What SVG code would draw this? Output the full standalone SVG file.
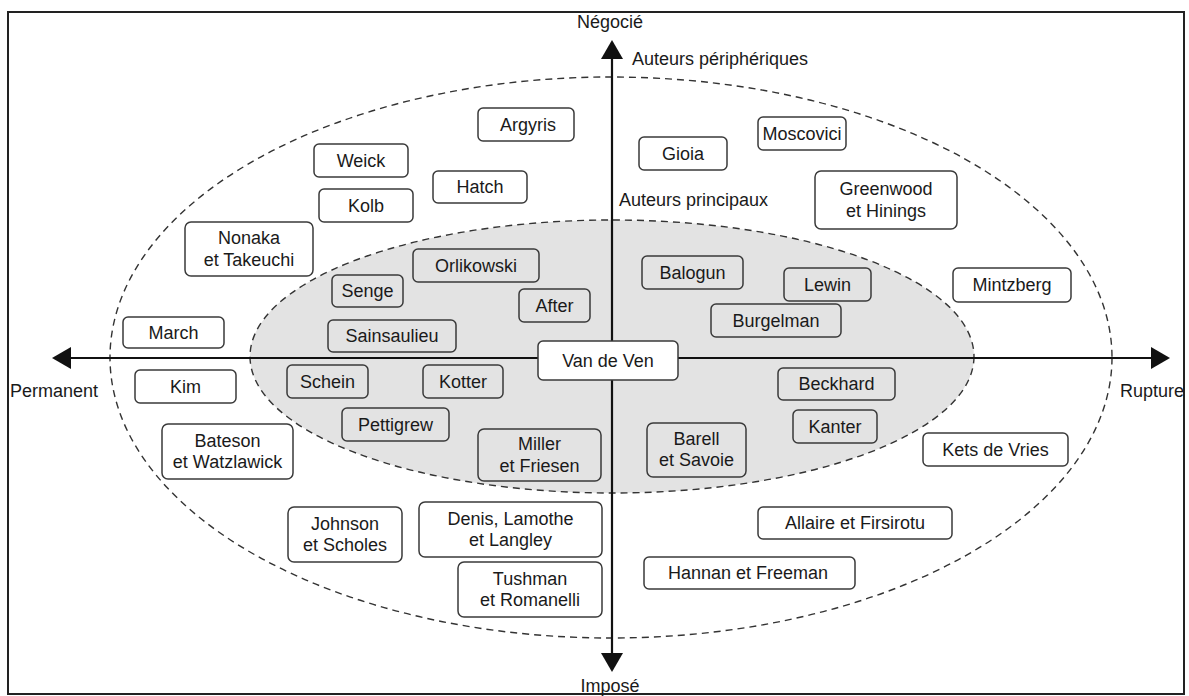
<svg xmlns="http://www.w3.org/2000/svg" width="1189" height="696" viewBox="0 0 1189 696">
<defs>
<marker id="arr" markerUnits="userSpaceOnUse" markerWidth="19" markerHeight="22" viewBox="0 0 19 22" refX="0" refY="11" orient="auto-start-reverse">
<path d="M0,0 L19,11 L0,22 z" fill="#111"/>
</marker>
<style>
.t{font-family:"Liberation Sans",Arial,sans-serif;font-size:18px;fill:#1a1a1a;text-anchor:middle}
.l{font-family:"Liberation Sans",Arial,sans-serif;font-size:18px;fill:#1a1a1a}
.b{fill:none;stroke:#3a3a3a;stroke-width:1.5}
.w{fill:#fff;stroke:#3a3a3a;stroke-width:1.5}
.e{stroke:#333;stroke-width:1.4;stroke-dasharray:7 5}
.ax{stroke:#111;stroke-width:2.2;fill:none}
</style>
</defs>
<rect x="0" y="0" width="1189" height="696" fill="#fff"/>
<rect x="8" y="12" width="1176" height="682" fill="none" stroke="#222" stroke-width="2"/>
<ellipse cx="611" cy="357.5" rx="501" ry="280.5" fill="none" class="e"/>
<ellipse cx="612" cy="356.5" rx="362" ry="136.5" fill="#e3e3e3" class="e"/>
<g id="connectors">
<line class="ax" x1="612" y1="59" x2="612" y2="653" marker-start="url(#arr)" marker-end="url(#arr)"/>
<line class="ax" x1="71" y1="358" x2="1151" y2="358" marker-start="url(#arr)" marker-end="url(#arr)"/>
</g>
<g id="labels">
<text class="t" x="610" y="28">Négocié</text>
<text class="t" x="610" y="692">Imposé</text>
<text class="l" x="10" y="397">Permanent</text>
<text class="l" x="1120" y="397">Rupture</text>
<text class="l" x="632" y="65">Auteurs périphériques</text>
<text class="l" x="619" y="206">Auteurs principaux</text>
</g>
<g id="argyris"><rect class="b" x="478" y="108" width="96" height="33" rx="5"/><text class="t" x="528" y="130.5">Argyris</text></g>
<g id="weick"><rect class="b" x="314" y="144" width="94" height="33" rx="5"/><text class="t" x="361" y="166.5">Weick</text></g>
<g id="kolb"><rect class="b" x="319" y="189" width="94" height="33" rx="5"/><text class="t" x="366" y="211.5">Kolb</text></g>
<g id="hatch"><rect class="b" x="433" y="171" width="94" height="32" rx="5"/><text class="t" x="480" y="193">Hatch</text></g>
<g id="gioia"><rect class="b" x="639" y="137" width="88" height="33" rx="5"/><text class="t" x="683" y="159.5">Gioia</text></g>
<g id="moscovici"><rect class="b" x="758" y="117" width="88" height="33" rx="5"/><text class="t" x="802" y="139.5">Moscovici</text></g>
<g id="greenwood"><rect class="b" x="815" y="171" width="142" height="58" rx="6"/><text class="t" x="886" y="195">Greenwood</text><text class="t" x="886" y="217">et Hinings</text></g>
<g id="nonaka"><rect class="b" x="185" y="222" width="128" height="54" rx="6"/><text class="t" x="249" y="244">Nonaka</text><text class="t" x="249" y="265.5">et Takeuchi</text></g>
<g id="mintzberg"><rect class="b" x="953" y="268" width="118" height="34" rx="5"/><text class="t" x="1012" y="291">Mintzberg</text></g>
<g id="march"><rect class="b" x="123" y="317" width="101" height="31" rx="5"/><text class="t" x="173.5" y="338.5">March</text></g>
<g id="kim"><rect class="b" x="135" y="370" width="101" height="33" rx="5"/><text class="t" x="185.5" y="392.5">Kim</text></g>
<g id="bateson"><rect class="b" x="162" y="424" width="131" height="55" rx="6"/><text class="t" x="227.5" y="446.5">Bateson</text><text class="t" x="227.5" y="468">et Watzlawick</text></g>
<g id="ketsdevries"><rect class="b" x="923" y="433" width="145" height="33" rx="5"/><text class="t" x="995.5" y="455.5">Kets de Vries</text></g>
<g id="johnson"><rect class="b" x="288" y="507" width="114" height="55" rx="6"/><text class="t" x="345" y="529.5">Johnson</text><text class="t" x="345" y="551">et Scholes</text></g>
<g id="denis"><rect class="b" x="419" y="502" width="183" height="55" rx="6"/><text class="t" x="510.5" y="524.5">Denis, Lamothe</text><text class="t" x="510.5" y="546">et Langley</text></g>
<g id="allaire"><rect class="b" x="758" y="507" width="194" height="32" rx="5"/><text class="t" x="855" y="529">Allaire et Firsirotu</text></g>
<g id="tushman"><rect class="b" x="458" y="562" width="144" height="55" rx="6"/><text class="t" x="530" y="584.5">Tushman</text><text class="t" x="530" y="606">et Romanelli</text></g>
<g id="hannan"><rect class="b" x="644" y="557" width="211" height="32" rx="5"/><text class="t" x="748" y="579">Hannan et Freeman</text></g>
<g id="orlikowski"><rect class="b" x="413" y="249" width="126" height="33" rx="5"/><text class="t" x="476" y="271.5">Orlikowski</text></g>
<g id="senge"><rect class="b" x="332" y="275" width="71" height="32" rx="5"/><text class="t" x="367.5" y="297">Senge</text></g>
<g id="after"><rect class="b" x="519" y="289" width="71" height="33" rx="5"/><text class="t" x="554.5" y="311.5">After</text></g>
<g id="sainsaulieu"><rect class="b" x="328" y="320" width="128" height="32" rx="5"/><text class="t" x="392" y="342">Sainsaulieu</text></g>
<g id="balogun"><rect class="b" x="642" y="256" width="101" height="33" rx="5"/><text class="t" x="692.5" y="278.5">Balogun</text></g>
<g id="lewin"><rect class="b" x="784" y="268" width="87" height="33" rx="5"/><text class="t" x="827.5" y="290.5">Lewin</text></g>
<g id="burgelman"><rect class="b" x="711" y="304" width="130" height="33" rx="5"/><text class="t" x="776" y="326.5">Burgelman</text></g>
<g id="vandeven"><rect class="w" x="538" y="341" width="140" height="39" rx="5"/><text class="t" x="608" y="366.5">Van de Ven</text></g>
<g id="schein"><rect class="b" x="287" y="365" width="81" height="33" rx="5"/><text class="t" x="327.5" y="387.5">Schein</text></g>
<g id="kotter"><rect class="b" x="423" y="365" width="80" height="33" rx="5"/><text class="t" x="463" y="387.5">Kotter</text></g>
<g id="beckhard"><rect class="b" x="778" y="368" width="117" height="32" rx="5"/><text class="t" x="836.5" y="390">Beckhard</text></g>
<g id="pettigrew"><rect class="b" x="342" y="408" width="107" height="33" rx="5"/><text class="t" x="395.5" y="430.5">Pettigrew</text></g>
<g id="kanter"><rect class="b" x="793" y="410" width="84" height="33" rx="5"/><text class="t" x="835" y="432.5">Kanter</text></g>
<g id="miller"><rect class="b" x="478" y="429" width="123" height="52" rx="6"/><text class="t" x="539.5" y="450">Miller</text><text class="t" x="539.5" y="471.5">et Friesen</text></g>
<g id="barell"><rect class="b" x="647" y="423" width="99" height="54" rx="6"/><text class="t" x="696.5" y="444.5">Barell</text><text class="t" x="696.5" y="466">et Savoie</text></g>
</svg>
